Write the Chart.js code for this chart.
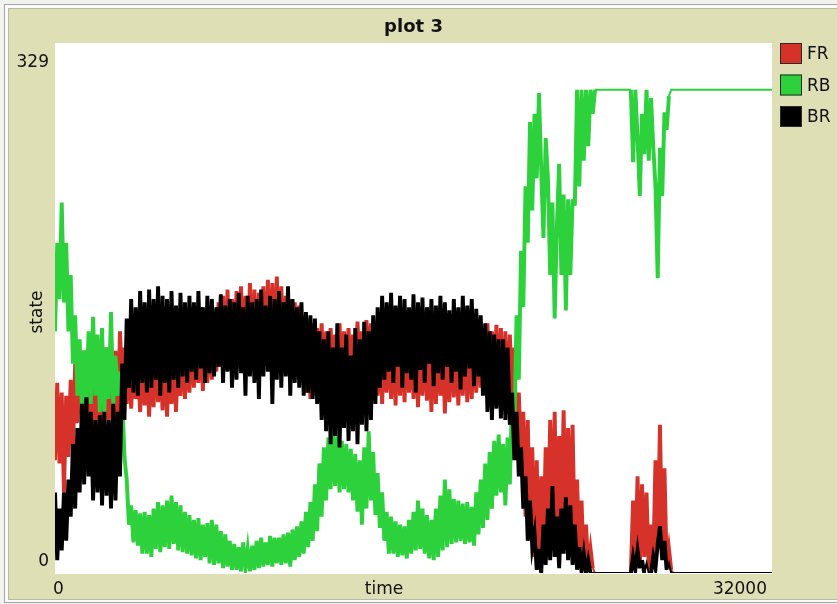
<!DOCTYPE html>
<html>
<head>
<meta charset="utf-8">
<title>plot 3</title>
<script src="https://cdn.jsdelivr.net/npm/chart.js@4.4.1/dist/chart.umd.min.js"></script>
<style>
    html, body { margin: 0; padding: 0; width: 837px; height: 604px; overflow: hidden; background: #f2f2ef; }
    .plot-outer { position: absolute; left: 4px; top: 4px; width: 850px; height: 597px; border: 1px solid #a4a4a4; background: #fbfbfb; }
    .plot-inner { position: absolute; left: 3px; top: 3px; right: -4px; bottom: 2px; border: 1px solid #b9b9a4; background: #dfdfb6; }
    #plotCanvas { position: absolute; left: 0; top: 0; }
</style>
</head>
<body>
<div class="plot-outer"><div class="plot-inner"></div></div>
<canvas id="plotCanvas" width="837" height="604"></canvas>
<script>
    // sampling step of the plot (ticks)
    var T_STEP = 100;
    var xTickLabels = [0, 32000];
    var yTickLabels = [0, 329];
    var penNames = ["FR", "RB", "BR"];
    var penColors = ["rgb(215, 50, 41)", "rgb(44, 209, 59)", "rgb(0, 0, 0)"];

    // values, one every 100 ticks (0 .. 32000)
    var frValues = [
        70, 118, 68, 112, 50, 110, 72, 120, 75, 130,
        93, 136, 95, 138, 100, 140, 98, 135, 85, 138,
        80, 136, 88, 140, 95, 134, 85, 138, 90, 150,
        115, 140, 105, 134, 102, 136, 108, 132, 100, 135,
        104, 134, 97, 136, 103, 138, 106, 133, 101, 137,
        97, 135, 105, 138, 100, 136, 110, 140, 108, 142,
        112, 145, 115, 142, 118, 148, 113, 150, 118, 155,
        120, 160, 125, 168, 128, 172, 130, 176, 128, 170,
        132, 175, 130, 178, 135, 172, 132, 180, 136, 176,
        134, 174, 138, 178, 135, 182, 138, 180, 136, 184,
        138, 178, 135, 172, 132, 170, 130, 168, 128, 166,
        118, 160, 112, 158, 108, 155, 110, 152, 115, 155,
        118, 150, 120, 152, 122, 148, 118, 155, 120, 150,
        124, 152, 120, 148, 126, 156, 125, 150, 128, 157,
        130, 155, 115, 150, 110, 148, 105, 145, 112, 150,
        108, 146, 104, 150, 110, 145, 106, 148, 112, 144,
        108, 150, 103, 146, 110, 148, 107, 145, 100, 150,
        105, 146, 110, 148, 99, 145, 106, 150, 109, 146,
        104, 148, 110, 150, 106, 145, 108, 148, 112, 150,
        115, 152, 112, 155, 118, 150, 110, 154, 115, 152,
        105, 150, 100, 148, 108, 140, 75, 112, 70, 100,
        35, 95, 25, 78, 10, 70, 6, 60, 16, 78,
        20, 95, 25, 100, 18, 85, 30, 101, 22, 90,
        35, 92, 15, 58, 8, 45, 3, 30, 2, 15,
        3, 0, 0, 0, 0, 0, 0, 0, 0, 0,
        0, 0, 0, 0, 0, 0, 0, 0, 45, 5,
        60, 3, 55, 10, 50, 2, 30, 5, 70, 15,
        92, 10, 65, 3, 15, 2, 0, 0, 0, 0,
        0, 0, 0, 0, 0, 0, 0, 0, 0, 0,
        0, 0, 0, 0, 0, 0, 0, 0, 0, 0,
        0, 0, 0, 0, 0, 0, 0, 0, 0, 0,
        0, 0, 0, 0, 0, 0, 0, 0, 0, 0,
        0
    ];

    var rbValues = [
        150, 205, 170, 230, 168, 205, 150, 185, 130, 160,
        110, 145, 102, 138, 108, 150, 105, 159, 110, 148,
        100, 152, 98, 140, 108, 162, 104, 135, 110, 125,
        110, 72, 58, 30, 42, 19, 39, 17, 37, 12,
        38, 12, 36, 10, 40, 15, 44, 13, 42, 16,
        45, 15, 48, 18, 44, 14, 42, 13, 38, 12,
        36, 11, 33, 9, 34, 8, 30, 10, 31, 6,
        33, 5, 30, 6, 26, 3, 24, 4, 20, 2,
        18, 2, 16, 1, 19, 3, 15, 1, 17, 2,
        20, 3, 22, 4, 19, 5, 23, 4, 22, 6,
        22, 5, 24, 6, 25, 4, 27, 8, 29, 10,
        32, 12, 38, 16, 44, 20, 55, 26, 68, 35,
        78, 45, 84, 52, 88, 54, 86, 50, 82, 52,
        80, 50, 77, 45, 74, 38, 70, 30, 78, 40,
        88, 45, 75, 36, 62, 28, 50, 20, 38, 12,
        35, 12, 32, 10, 30, 11, 29, 9, 33, 12,
        38, 14, 45, 15, 40, 12, 36, 9, 33, 8,
        40, 10, 48, 14, 58, 16, 52, 18, 46, 19,
        45, 20, 43, 18, 44, 19, 41, 17, 50, 24,
        58, 28, 68, 33, 75, 40, 82, 48, 86, 50,
        80, 42, 84, 55, 112, 90, 160, 120, 200, 165,
        240, 205, 280, 225, 285, 245, 298, 250, 208, 270,
        245, 185, 230, 158, 215, 254, 185, 235, 163, 232,
        185, 232, 228, 300, 240, 300, 256, 300, 265, 300,
        285, 300, 300, 300, 300, 300, 300, 300, 300, 300,
        300, 300, 300, 300, 300, 300, 300, 300, 255, 300,
        270, 234, 285, 260, 300, 256, 295, 265, 240, 183,
        264, 234, 286, 275, 296, 300, 300, 300, 300, 300,
        300, 300, 300, 300, 300, 300, 300, 300, 300, 300,
        300, 300, 300, 300, 300, 300, 300, 300, 300, 300,
        300, 300, 300, 300, 300, 300, 300, 300, 300, 300,
        300, 300, 300, 300, 300, 300, 300, 300, 300, 300,
        300
    ];

    var brValues = [
        50, 8, 40, 14, 50, 20, 58, 35, 80, 40,
        90, 50, 105, 55, 109, 60, 100, 45, 95, 50,
        98, 42, 100, 48, 95, 40, 105, 45, 100, 60,
        130, 95, 158, 115, 170, 112, 165, 110, 175, 118,
        168, 112, 176, 115, 170, 120, 178, 110, 172, 118,
        170, 112, 175, 120, 166, 115, 174, 122, 168, 118,
        172, 125, 168, 120, 175, 127, 165, 118, 172, 124,
        170, 122, 165, 128, 173, 118, 166, 125, 170, 115,
        168, 120, 174, 124, 165, 110, 172, 122, 168, 118,
        170, 108, 176, 122, 166, 125, 172, 105, 170, 120,
        175, 115, 168, 122, 178, 110, 170, 118, 165, 115,
        168, 110, 162, 112, 160, 108, 158, 105, 150, 95,
        145, 88, 150, 80, 140, 85, 155, 78, 140, 90,
        148, 82, 135, 88, 152, 80, 145, 92, 156, 88,
        150, 95, 160, 105, 165, 115, 172, 120, 168, 125,
        174, 118, 166, 128, 172, 115, 170, 124, 165, 120,
        173, 112, 168, 126, 171, 118, 165, 130, 170, 116,
        166, 124, 172, 120, 168, 128, 163, 118, 170, 125,
        165, 114, 172, 122, 166, 127, 170, 116, 164, 122,
        160, 110, 155, 100, 150, 95, 148, 102, 145, 96,
        145, 95, 140, 92, 112, 70, 100, 60, 78, 40,
        60, 20, 45, 16, 25, 2, 15, 0, 30, 5,
        40, 8, 54, 10, 35, 3, 40, 12, 47, 8,
        42, 5, 30, 2, 16, 1, 12, 0, 8, 0,
        0, 0, 0, 0, 0, 0, 0, 0, 0, 0,
        0, 0, 0, 0, 0, 0, 0, 0, 10, 2,
        14, 3, 8, 0, 6, 0, 0, 10, 3, 18,
        29, 8, 20, 2, 6, 0, 0, 0, 0, 0,
        0, 0, 0, 0, 0, 0, 0, 0, 0, 0,
        0, 0, 0, 0, 0, 0, 0, 0, 0, 0,
        0, 0, 0, 0, 0, 0, 0, 0, 0, 0,
        0, 0, 0, 0, 0, 0, 0, 0, 0, 0,
        0
    ];

    var FONT = "'DejaVu Sans', sans-serif";

    function toPoints(values) {
        var pts = [];
        for (var i = 0; i < values.length; i++) {
            pts.push({ x: i * T_STEP, y: values[i] });
        }
        return pts;
    }

    // steep (noisy) segments get a wider pen so the bands fill in like the original
    function segWidth(ctx) {
        return Math.abs(ctx.p0.parsed.y - ctx.p1.parsed.y) > 6 ? 3.9 : 2;
    }

    // white plotting area, axis texts and the pen legend
    var plotDecor = {
        id: 'plotDecor',
        beforeDatasetsDraw: function (chart) {
            var ctx = chart.ctx, a = chart.chartArea;
            ctx.save();
            ctx.fillStyle = '#ffffff';
            ctx.fillRect(a.left, a.top, a.right - a.left, a.bottom - a.top + 1);
            ctx.restore();
        },
        afterDraw: function (chart) {
            var ctx = chart.ctx, a = chart.chartArea;
            var xs = chart.scales.x, ys = chart.scales.y;
            ctx.save();
            ctx.fillStyle = '#111';
            ctx.textBaseline = 'middle';

            ctx.font = 'bold 18px ' + FONT;
            ctx.textAlign = 'center';
            ctx.fillText('plot 3', (a.left + a.right) / 2, 27);

            // y labels: max near the top, min just above the bottom
            ctx.font = '17px ' + FONT;
            ctx.textAlign = 'right';
            ctx.fillText(String(yTickLabels[1]), a.left - 6, ys.getPixelForValue(yTickLabels[1]) + 20);
            ctx.fillText(String(yTickLabels[0]), a.left - 6, ys.getPixelForValue(yTickLabels[0]) - 11);

            // x labels under the plot
            var yx = a.bottom + 17;
            ctx.textAlign = 'left';
            ctx.fillText(String(xTickLabels[0]), xs.getPixelForValue(xTickLabels[0]) - 2, yx);
            ctx.textAlign = 'right';
            ctx.fillText(String(xTickLabels[1]), xs.getPixelForValue(xTickLabels[1]) - 5, yx);
            ctx.textAlign = 'center';
            ctx.fillText('time', 384, yx);

            ctx.save();
            ctx.translate(38, 312);
            ctx.rotate(-Math.PI / 2);
            ctx.fillText('state', 0, 0);
            ctx.restore();

            // legend
            for (var i = 0; i < penNames.length; i++) {
                var by = a.top + i * 31.5;
                ctx.fillStyle = penColors[i];
                ctx.fillRect(780, by, 22, 21);
                ctx.strokeStyle = '#2a2a2a';
                ctx.lineWidth = 1;
                ctx.strokeRect(780.5, by + 0.5, 21, 20);
                ctx.fillStyle = '#111';
                ctx.textAlign = 'left';
                ctx.fillText(penNames[i], 807, by + 12);
            }
            ctx.restore();
        }
    };

    var datasets = [
        { label: penNames[0], data: toPoints(frValues), borderColor: penColors[0], order: 2 },
        { label: penNames[1], data: toPoints(rbValues), borderColor: penColors[1], order: 1 },
        { label: penNames[2], data: toPoints(brValues), borderColor: penColors[2], order: 0 }
    ];

    new Chart(document.getElementById('plotCanvas').getContext('2d'), {
        type: 'line',
        data: { datasets: datasets },
        options: {
            responsive: false,
            animation: false,
            layout: { padding: { left: 55, right: 65, top: 43, bottom: 31 } },
            plugins: { legend: { display: false }, tooltip: { enabled: false } },
            elements: {
                point: { radius: 0 },
                line: { borderWidth: 2, tension: 0, fill: false, borderJoinStyle: 'miter' }
            },
            datasets: {
                line: { segment: { borderWidth: segWidth } }
            },
            scales: {
                x: { type: 'linear', display: false, min: 0, max: 32000 },
                y: { type: 'linear', display: false, min: 0, max: 329 }
            }
        },
        plugins: [plotDecor]
    });
</script>
</body>
</html>
